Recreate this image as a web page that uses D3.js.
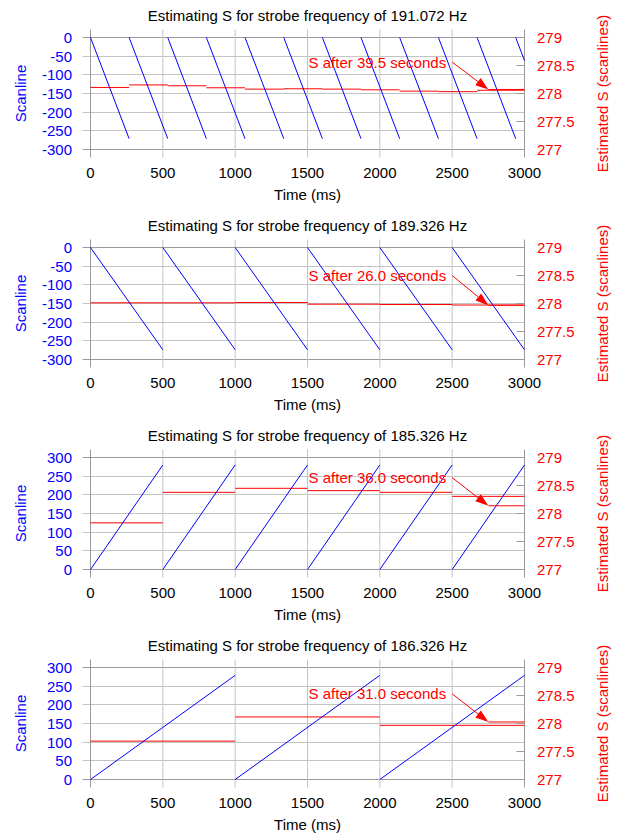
<!DOCTYPE html>
<html>
<head>
<meta charset="utf-8">
<script src="https://cdn.jsdelivr.net/npm/d3@7"></script>
<style>
  html, body { margin: 0; padding: 0; background: #fff; }
  svg { display: block; }
  text { font-family: "Liberation Sans", Arial, Helvetica, sans-serif; font-size: 15px; }
</style>
</head>
<body>
<svg id="chart" width="620" height="834"></svg>
<script>
// ---------------- data ----------------
const titles = [
  "Estimating S for strobe frequency of 191.072 Hz",
  "Estimating S for strobe frequency of 189.326 Hz",
  "Estimating S for strobe frequency of 185.326 Hz",
  "Estimating S for strobe frequency of 186.326 Hz"
];
const timeTicks = [0, 500, 1000, 1500, 2000, 2500, 3000];
const scanTicksNeg = [0, -50, -100, -150, -200, -250, -300];
const scanTicksPos = [0, 50, 100, 150, 200, 250, 300];
const sTicks = [277, 277.5, 278, 278.5, 279];
const annotationLabels = ["S after 39.5 seconds", "S after 26.0 seconds", "S after 36.0 seconds", "S after 31.0 seconds"];

// Panel 1 (191.072 Hz): scanline sweeps (start time, end time, end scanline)
const p1SweepStart = [0, 267, 534, 801, 1068, 1336, 1603, 1870, 2137, 2405, 2672, 2939];
const p1SweepEnd   = [267, 534, 801, 1068, 1336, 1603, 1870, 2137, 2405, 2672, 2939, 3000];
const p1SweepVal   = [-271, -271, -271, -271, -271, -271, -271, -271, -271, -271, -271, -62];
const p1EstStart = [0, 267, 534, 801, 1068, 1336, 1603, 1870, 2137, 2405, 2672];
const p1EstEnd   = [267, 534, 801, 1068, 1336, 1603, 1870, 2137, 2405, 2672, 3000];
const p1EstVal   = [278.108, 278.153, 278.138, 278.102, 278.078, 278.084, 278.078, 278.066, 278.042, 278.033, 278.058];
const p1Final = 278.072;

// Panel 2 (189.326 Hz)
const p2SweepStart = [0, 500, 1000, 1500, 2000, 2500];
const p2SweepEnd   = [500, 1000, 1500, 2000, 2500, 3000];
const p2SweepVal   = [-274, -274, -274, -274, -274, -274];
const p2EstStart = [0, 500, 1000, 1500, 2000, 2500];
const p2EstEnd   = [500, 1000, 1500, 2000, 2500, 3000];
const p2EstVal   = [278.012, 278.012, 278.018, 277.988, 277.982, 277.973];
const p2Final = 277.968;

// Panel 3 (185.326 Hz)
const p3SweepStart = [0, 500, 1000, 1500, 2000, 2500];
const p3SweepEnd   = [500, 1000, 1500, 2000, 2500, 3000];
const p3SweepVal   = [280, 280, 280, 280, 280, 280];
const p3EstStart = [0, 500, 1000, 1500, 2000, 2500];
const p3EstEnd   = [500, 1000, 1500, 2000, 2500, 3000];
const p3EstVal   = [277.833, 278.378, 278.45, 278.408, 278.378, 278.306];
const p3Final = 278.138;

// Panel 4 (186.326 Hz)
const p4SweepStart = [0, 1000, 2000];
const p4SweepEnd   = [1000, 2000, 3000];
const p4SweepVal   = [279, 279, 279];
const p4EstStart = [0, 1000, 2000];
const p4EstEnd   = [1000, 2000, 3000];
const p4EstVal   = [277.685, 278.117, 277.967];
const p4Final = 278.027;

// annotation anchor (time, S) for label/arrow tail, and arrow tip time
const annTailTime = 2500;
const annTipTime = 2750;
const annLabelS = [278.56, 278.50, 278.64, 278.53];

// ---------------- layout ----------------
const panels = [
  { sStart: p1SweepStart, sEnd: p1SweepEnd, sVal: p1SweepVal, eStart: p1EstStart, eEnd: p1EstEnd, eVal: p1EstVal, fin: p1Final, scanDomain: [-300, 0], scanTicks: scanTicksNeg },
  { sStart: p2SweepStart, sEnd: p2SweepEnd, sVal: p2SweepVal, eStart: p2EstStart, eEnd: p2EstEnd, eVal: p2EstVal, fin: p2Final, scanDomain: [-300, 0], scanTicks: scanTicksNeg },
  { sStart: p3SweepStart, sEnd: p3SweepEnd, sVal: p3SweepVal, eStart: p3EstStart, eEnd: p3EstEnd, eVal: p3EstVal, fin: p3Final, scanDomain: [0, 300], scanTicks: scanTicksPos },
  { sStart: p4SweepStart, sEnd: p4SweepEnd, sVal: p4SweepVal, eStart: p4EstStart, eEnd: p4EstEnd, eVal: p4EstVal, fin: p4Final, scanDomain: [0, 300], scanTicks: scanTicksPos }
];

const svg = d3.select("#chart");
const left = 90.5, right = 524.5, plotH = 112, panelStep = 210, firstTop = 37.5;
const gridCol = "#c4c4c4", frameCol = "#9a9a9a", blue = "#0000ff", red = "#ff0000";

const x = d3.scaleLinear().domain([0, 3000]).range([left, right]);

panels.forEach((p, i) => {
  const top = firstTop + i * panelStep, bottom = top + plotH;
  const yScan = d3.scaleLinear().domain(p.scanDomain).range([bottom, top]);
  const yS = d3.scaleLinear().domain([277, 279]).range([bottom, top]);
  const g = svg.append("g");

  // horizontal gridlines (left axis), extending outward as ticks
  g.append("g").selectAll("line").data(p.scanTicks).join("line")
    .attr("x1", left - 8).attr("x2", right)
    .attr("y1", d => Math.round(yScan(d) - 0.5) + 0.5)
    .attr("y2", d => Math.round(yScan(d) - 0.5) + 0.5)
    .attr("stroke", (d, k) => (d === p.scanDomain[0] || d === p.scanDomain[1]) ? frameCol : gridCol)
    .attr("stroke-width", 1);
  // vertical gridlines, extending outward top and bottom
  g.append("g").selectAll("line").data(timeTicks).join("line")
    .attr("x1", d => x(d)).attr("x2", d => x(d))
    .attr("y1", top - 8).attr("y2", bottom + 8)
    .attr("stroke", d => (d === 0 || d === 3000) ? frameCol : gridCol)
    .attr("stroke-width", 1);
  // right axis inward ticks
  g.append("g").selectAll("line").data(sTicks).join("line")
    .attr("x1", right - 8).attr("x2", right)
    .attr("y1", d => Math.round(yS(d) - 0.5) + 0.5)
    .attr("y2", d => Math.round(yS(d) - 0.5) + 0.5)
    .attr("stroke", frameCol);

  // tick labels
  g.append("g").selectAll("text").data(p.scanTicks).join("text")
    .attr("x", 72).attr("y", d => yScan(d) + 5.5)
    .attr("text-anchor", "end").attr("fill", blue).text(d => d);
  g.append("g").selectAll("text").data(sTicks).join("text")
    .attr("x", 537).attr("y", d => yS(d) + 5.5)
    .attr("text-anchor", "start").attr("fill", red).text(d => d);
  g.append("g").selectAll("text").data(timeTicks).join("text")
    .attr("x", d => x(d)).attr("y", bottom + 28)
    .attr("text-anchor", "middle").attr("fill", "#000").text(d => d);

  // titles and axis labels
  g.append("text").attr("x", (left + right) / 2).attr("y", top - 17)
    .attr("text-anchor", "middle").attr("fill", "#000").text(titles[i]);
  g.append("text").attr("x", (left + right) / 2).attr("y", bottom + 50)
    .attr("text-anchor", "middle").attr("fill", "#000").text("Time (ms)");
  g.append("text").attr("transform", `translate(26,${(top + bottom) / 2}) rotate(-90)`)
    .attr("text-anchor", "middle").attr("fill", blue).text("Scanline");
  g.append("text").attr("transform", `translate(607.5,${(top + bottom) / 2}) rotate(-90)`)
    .attr("text-anchor", "middle").attr("fill", red).text("Estimated S (scanlines)");

  // estimated S steps
  g.append("g").selectAll("line").data(p.eVal).join("line")
    .attr("x1", (d, k) => x(p.eStart[k])).attr("x2", (d, k) => x(p.eEnd[k]))
    .attr("y1", d => yS(d)).attr("y2", d => yS(d))
    .attr("stroke", red).attr("stroke-width", 1);

  // scanline sweeps
  g.append("g").selectAll("line").data(p.sVal).join("line")
    .attr("x1", (d, k) => x(p.sStart[k])).attr("y1", yScan(0))
    .attr("x2", (d, k) => x(p.sEnd[k])).attr("y2", d => yScan(d))
    .attr("stroke", blue).attr("stroke-width", 1);

  // final estimate line
  g.append("line").attr("x1", x(annTipTime)).attr("x2", x(3000))
    .attr("y1", yS(p.fin)).attr("y2", yS(p.fin))
    .attr("stroke", red).attr("stroke-width", 1);

  // annotation text + arrow
  const tx = x(annTailTime), ty = yS(annLabelS[i]);
  const hx = x(annTipTime), hy = yS(p.fin);
  g.append("text").attr("x", tx - 6).attr("y", ty + 5.5)
    .attr("text-anchor", "end").attr("fill", red).text(annotationLabels[i]);
  const ang = Math.atan2(hy - ty, hx - tx);
  const L = 13, W = 4.5;
  const bx = hx - L * Math.cos(ang), by = hy - L * Math.sin(ang);
  g.append("line").attr("x1", tx).attr("y1", ty).attr("x2", bx).attr("y2", by)
    .attr("stroke", red).attr("stroke-width", 1);
  g.append("path")
    .attr("d", `M${hx},${hy} L${bx - W * Math.sin(ang)},${by + W * Math.cos(ang)} L${bx + W * Math.sin(ang)},${by - W * Math.cos(ang)} Z`)
    .attr("fill", red);
});
</script>
</body>
</html>
